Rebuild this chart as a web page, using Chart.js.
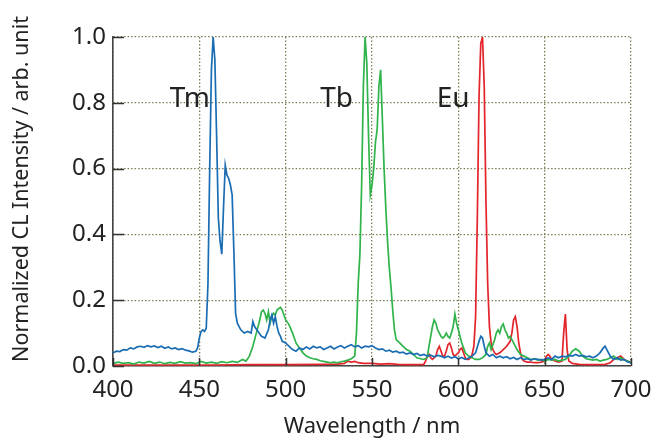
<!DOCTYPE html>
<html>
<head>
<meta charset="utf-8">
<script src="https://cdn.jsdelivr.net/npm/chart.js@4"></script>
<style>
  html, body { margin: 0; padding: 0; background: #fff; }
  #wrap { width: 657px; height: 440px; }
</style>
</head>
<body>
<div id="wrap"><canvas id="clChart" width="657" height="440"></canvas></div>
<script>
// Spectra (wavelength in nm, normalized intensity)
const tmWave = [400,402,404,406,408,410,412,414,416,418,420,422,424,426,428,430,432,434,436,438,440,442,444,446,448,449,450,451,452,453,454,455,456,457,458,459,460,461,462,463,464,465,466,467,468,469,470,471,472,474,476,478,480,481,482,484,486,488,490,491,492,493,494,495,496,497,498,500,502,504,506,508,510,512,514,516,518,520,522,524,526,528,530,532,534,536,538,540,542,544,546,548,550,552,554,556,558,560,562,564,566,568,570,572,574,576,578,580,582,584,586,588,590,592,594,596,598,600,602,604,606,608,610,612,613,614,615,616,618,620,622,624,626,628,630,632,634,636,638,640,642,644,646,648,650,652,654,656,658,660,662,664,666,668,670,672,674,676,678,680,682,684,685,686,688,690,692,694,696,698,700];
const tmValues = [0.040,0.045,0.044,0.050,0.048,0.055,0.052,0.058,0.060,0.057,0.062,0.058,0.061,0.056,0.060,0.054,0.058,0.052,0.055,0.050,0.053,0.048,0.046,0.042,0.045,0.055,0.085,0.105,0.110,0.105,0.115,0.25,0.60,0.90,1.0,0.93,0.70,0.45,0.38,0.34,0.48,0.61,0.58,0.57,0.55,0.52,0.35,0.16,0.13,0.11,0.10,0.105,0.10,0.135,0.12,0.105,0.09,0.085,0.11,0.14,0.155,0.13,0.15,0.12,0.10,0.09,0.075,0.07,0.06,0.05,0.045,0.055,0.05,0.058,0.052,0.06,0.055,0.058,0.05,0.055,0.06,0.052,0.058,0.062,0.055,0.06,0.065,0.058,0.062,0.055,0.06,0.058,0.062,0.055,0.05,0.052,0.045,0.048,0.042,0.045,0.04,0.042,0.036,0.04,0.035,0.038,0.032,0.035,0.03,0.033,0.028,0.032,0.03,0.025,0.03,0.024,0.028,0.022,0.026,0.02,0.024,0.03,0.04,0.075,0.09,0.085,0.06,0.04,0.03,0.035,0.025,0.03,0.025,0.028,0.022,0.026,0.02,0.025,0.02,0.022,0.018,0.022,0.02,0.018,0.02,0.025,0.02,0.03,0.025,0.03,0.028,0.032,0.03,0.035,0.03,0.032,0.028,0.03,0.025,0.03,0.04,0.055,0.06,0.05,0.03,0.02,0.025,0.018,0.02,0.012,0.01];

const tbWave = [400,403,406,409,412,415,418,421,424,427,430,433,436,439,442,445,448,451,454,457,460,463,466,469,472,475,477,479,481,483,485,486,487,488,489,490,491,492,493,494,495,496,497,498,499,500,502,504,505,506,508,510,512,514,516,518,520,522,524,526,528,530,532,534,536,538,540,541,542,543,544,545,546,547,548,549,550,551,552,553,554,555,556,557,558,559,560,561,562,563,564,566,568,570,572,574,576,578,580,582,583,584,585,586,587,588,589,590,591,592,593,594,595,596,597,598,599,600,601,602,603,604,606,608,610,612,614,616,617,618,619,620,621,622,623,624,625,626,627,628,629,630,631,632,634,636,638,640,642,644,646,648,650,652,654,656,658,660,662,664,666,668,670,672,674,676,678,680,682,684,686,688,690,692,694,696,698,700];
const tbValues = [0.008,0.012,0.008,0.01,0.006,0.012,0.009,0.014,0.008,0.012,0.007,0.011,0.008,0.013,0.009,0.01,0.007,0.014,0.009,0.012,0.008,0.013,0.01,0.014,0.011,0.02,0.015,0.03,0.06,0.10,0.14,0.165,0.17,0.16,0.14,0.165,0.13,0.15,0.16,0.155,0.17,0.175,0.178,0.17,0.155,0.14,0.125,0.10,0.085,0.07,0.055,0.04,0.03,0.025,0.022,0.02,0.016,0.014,0.012,0.01,0.012,0.01,0.013,0.015,0.018,0.022,0.03,0.10,0.25,0.34,0.55,0.85,1.0,0.92,0.70,0.52,0.55,0.60,0.68,0.72,0.85,0.90,0.75,0.60,0.48,0.38,0.30,0.24,0.17,0.11,0.08,0.07,0.06,0.05,0.045,0.035,0.025,0.022,0.02,0.025,0.06,0.09,0.12,0.14,0.13,0.11,0.10,0.09,0.085,0.09,0.10,0.09,0.085,0.10,0.12,0.158,0.13,0.11,0.09,0.07,0.055,0.04,0.03,0.025,0.02,0.02,0.025,0.035,0.06,0.07,0.05,0.065,0.08,0.10,0.11,0.10,0.12,0.128,0.11,0.10,0.085,0.09,0.08,0.07,0.05,0.035,0.03,0.025,0.02,0.022,0.018,0.02,0.015,0.02,0.018,0.02,0.015,0.018,0.02,0.03,0.045,0.052,0.045,0.03,0.022,0.02,0.018,0.02,0.015,0.018,0.02,0.025,0.03,0.02,0.025,0.018,0.015,0.01];

const euWave = [400,420,440,460,480,500,520,530,534,536,538,540,542,545,550,555,560,565,570,575,580,581,582,583,584,585,587,588,589,590,591,592,593,594,595,596,597,598,600,601,602,603,604,605,606,607,608,609,610,611,612,613,614,615,616,617,618,619,620,621,622,624,626,628,630,631,632,633,634,635,636,637,638,640,642,644,646,648,650,651,652,653,654,656,658,660,661,662,663,664,666,670,675,680,685,688,690,692,694,696,698,700];
const euValues = [0.003,0.003,0.003,0.003,0.004,0.004,0.005,0.006,0.008,0.015,0.012,0.014,0.01,0.008,0.008,0.006,0.007,0.005,0.004,0.004,0.005,0.015,0.03,0.035,0.025,0.02,0.03,0.05,0.06,0.045,0.03,0.03,0.045,0.065,0.07,0.055,0.035,0.03,0.04,0.05,0.055,0.04,0.025,0.02,0.02,0.025,0.035,0.06,0.15,0.45,0.82,0.98,1.0,0.85,0.50,0.25,0.12,0.07,0.05,0.04,0.035,0.04,0.05,0.06,0.075,0.10,0.14,0.15,0.12,0.07,0.04,0.02,0.015,0.012,0.012,0.01,0.01,0.012,0.015,0.03,0.035,0.03,0.02,0.015,0.012,0.015,0.10,0.158,0.05,0.015,0.008,0.005,0.004,0.004,0.005,0.01,0.02,0.025,0.03,0.02,0.015,0.01];

// Element labels placed in data coordinates
const peakLabels = ['Tm', 'Tb', 'Eu'];
const peakLabelX = [444.5, 529.5, 597];
const peakLabelY = [0.81, 0.81, 0.81];

const xTicks = [400, 450, 500, 550, 600, 650, 700];
const yTicks = [0, 0.2, 0.4, 0.6, 0.8, 1.0];
const yTitle = 'Normalized CL Intensity / arb. unit';

function toPoints(xs, ys) {
    return xs.map((x, i) => ({ x: x, y: ys[i] }));
}

const fontFamily = "'Noto Sans', 'DejaVu Sans', sans-serif";

// inner tick marks, y title + element labels
const decorPlugin = {
    id: 'decor',
    afterDraw(chart) {
        const ctx = chart.ctx;
        const xs = chart.scales.x;
        const ys = chart.scales.y;
        const area = chart.chartArea;
        ctx.save();
        ctx.strokeStyle = '#333';
        ctx.lineWidth = 1.5;
        ctx.beginPath();
        xTicks.forEach(v => {
            const px = Math.round(xs.getPixelForValue(v)) + 0.5;
            ctx.moveTo(px, area.bottom);
            ctx.lineTo(px, area.bottom - 8);
        });
        yTicks.forEach(v => {
            const py = Math.round(ys.getPixelForValue(v)) + 0.5;
            ctx.moveTo(area.left, py);
            ctx.lineTo(area.left + 11, py);
        });
        ctx.stroke();

        ctx.fillStyle = '#222';
        ctx.font = '28px ' + fontFamily;
        ctx.textAlign = 'center';
        ctx.textBaseline = 'middle';
        peakLabels.forEach((t, i) => {
            ctx.fillText(t, xs.getPixelForValue(peakLabelX[i]), ys.getPixelForValue(peakLabelY[i]));
        });

        // y axis title, sits a bit above the plot centre like the original
        ctx.font = '21.5px ' + fontFamily;
        ctx.translate(22, 189);
        ctx.rotate(-Math.PI / 2);
        ctx.fillText(yTitle, 0, 0);
        ctx.restore();
    }
};

const ctx = document.getElementById('clChart').getContext('2d');
const clChart = new Chart(ctx, {
    type: 'line',
    data: {
        datasets: [
            {
                label: 'Tm',
                data: toPoints(tmWave, tmValues),
                borderColor: '#1a6db3',
                borderWidth: 1.7
            },
            {
                label: 'Tb',
                data: toPoints(tbWave, tbValues),
                borderColor: '#2fb34a',
                borderWidth: 1.7
            },
            {
                label: 'Eu',
                data: toPoints(euWave, euValues),
                borderColor: '#e3242b',
                borderWidth: 1.7
            }
        ]
    },
    options: {
        responsive: false,
        animation: false,
        layout: { padding: { top: 37, right: 26, left: 0, bottom: 0 } },
        elements: {
            point: { radius: 0 },
            line: { tension: 0, fill: false }
        },
        plugins: {
            legend: { display: false },
            tooltip: { enabled: false }
        },
        scales: {
            x: {
                type: 'linear',
                min: 400,
                max: 700,
                afterFit(scale) {
                    scale.height = 74;
                    // labels may overhang the plot edge, keep the plot box fixed
                    scale.paddingLeft = 0;
                    scale.paddingRight = 0;
                },
                afterBuildTicks(scale) { scale.ticks = xTicks.map(v => ({ value: v })); },
                ticks: {
                    color: '#222',
                    padding: 10,
                    maxRotation: 0,
                    font: { family: fontFamily, size: 24 }
                },
                grid: {
                    color: '#7d7d55',
                    lineWidth: 1.3,
                    drawTicks: false
                },
                border: { display: true, color: '#444', width: 1.6, dash: [1.5, 2] },
                title: {
                    display: true,
                    text: 'Wavelength / nm',
                    color: '#222',
                    padding: { top: 4, bottom: 0 },
                    font: { family: fontFamily, size: 22 }
                }
            },
            y: {
                min: 0,
                max: 1,
                afterFit(scale) {
                    scale.width = 113;
                    scale.paddingTop = 0;
                    scale.paddingBottom = 0;
                },
                afterBuildTicks(scale) { scale.ticks = yTicks.map(v => ({ value: v })); },
                ticks: {
                    color: '#222',
                    padding: 7,
                    font: { family: fontFamily, size: 24 },
                    callback: v => v.toFixed(1)
                },
                grid: {
                    color: '#7d7d55',
                    lineWidth: 1.3,
                    drawTicks: false
                },
                border: { display: true, color: '#444', width: 1.6, dash: [1.5, 2] }
            }
        }
    },
    plugins: [decorPlugin]
});
</script>
</body>
</html>
